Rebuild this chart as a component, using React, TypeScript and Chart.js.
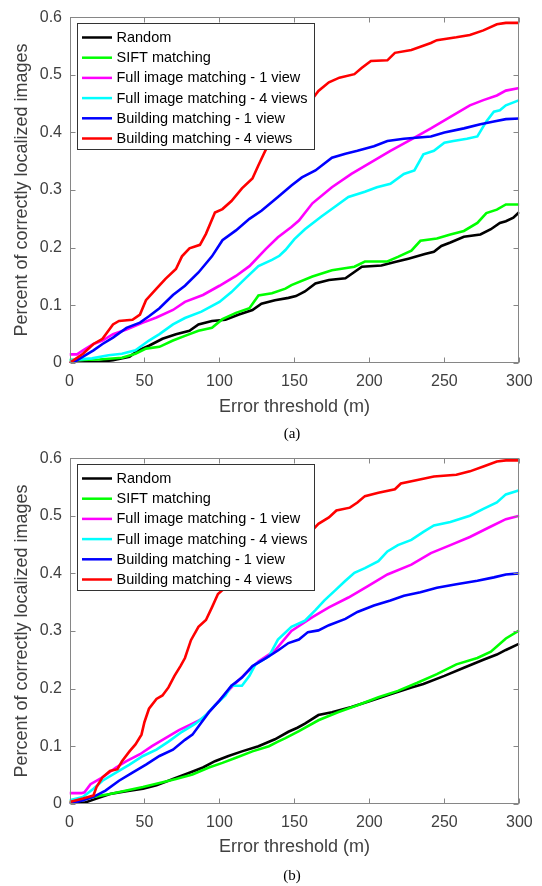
import React, { useEffect, useRef } from "react";
import { Chart, registerables } from "chart.js";

Chart.register(...registerables);

// ---------- shared labels / ticks ----------
const SERIES_LABELS = [
  "Random",
  "SIFT matching",
  "Full image matching - 1 view",
  "Full image matching - 4 views",
  "Building matching - 1 view",
  "Building matching - 4 views",
];
const SERIES_COLORS = ["#000000", "#00ff00", "#ff00ff", "#00ffff", "#0000ff", "#ff0000"];
const X_TICKS = [0, 50, 100, 150, 200, 250, 300];
const Y_TICKS = [0, 0.1, 0.2, 0.3, 0.4, 0.5, 0.6];
const X_TITLE = "Error threshold (m)";
const Y_TITLE = "Percent of correctly localized images";

// ---------- panel (a) ----------
const A_RANDOM_X = [0, 10, 20, 29, 40, 46, 53, 62, 71, 80, 86, 95, 104, 113, 122, 128, 137, 146, 151, 157, 164, 173, 184, 195, 208, 217, 226, 237, 243, 248, 254, 263, 274, 281, 287, 291, 296, 300];
const A_RANDOM_Y = [0, 0.001, 0.002, 0.005, 0.011, 0.022, 0.03, 0.042, 0.05, 0.056, 0.067, 0.073, 0.075, 0.084, 0.092, 0.103, 0.109, 0.113, 0.116, 0.124, 0.138, 0.144, 0.147, 0.167, 0.169, 0.175, 0.181, 0.189, 0.193, 0.203, 0.209, 0.219, 0.223, 0.232, 0.243, 0.246, 0.252, 0.262];

const A_SIFT_X = [0, 20, 35, 44, 51, 60, 69, 77, 86, 95, 102, 111, 120, 126, 135, 144, 148, 162, 175, 190, 197, 212, 219, 228, 234, 245, 254, 263, 272, 278, 285, 291, 300];
const A_SIFT_Y = [0.005, 0.006, 0.009, 0.016, 0.025, 0.028, 0.039, 0.047, 0.056, 0.061, 0.076, 0.087, 0.095, 0.117, 0.121, 0.129, 0.135, 0.15, 0.161, 0.167, 0.176, 0.176, 0.184, 0.195, 0.212, 0.216, 0.223, 0.229, 0.243, 0.26, 0.266, 0.275, 0.275];

const A_FULL1_X = [0, 5, 9, 16, 22, 29, 38, 49, 58, 69, 77, 89, 100, 111, 120, 131, 139, 148, 153, 162, 175, 188, 201, 214, 228, 241, 254, 267, 276, 285, 291, 300];
const A_FULL1_Y = [0.015, 0.015, 0.022, 0.033, 0.039, 0.05, 0.058, 0.07, 0.079, 0.092, 0.106, 0.118, 0.134, 0.151, 0.168, 0.198, 0.218, 0.236, 0.247, 0.277, 0.305, 0.328, 0.348, 0.368, 0.388, 0.407, 0.427, 0.447, 0.456, 0.464, 0.4725, 0.477];

const A_FULL4_X = [0, 15, 26, 35, 44, 53, 60, 69, 77, 88, 100, 108, 117, 126, 135, 140, 144, 150, 157, 168, 177, 186, 197, 205, 214, 223, 230, 236, 243, 250, 256, 265, 272, 278, 283, 287, 291, 300];
const A_FULL4_Y = [0.005, 0.008, 0.0135, 0.016, 0.022, 0.039, 0.05, 0.067, 0.078, 0.089, 0.106, 0.123, 0.146, 0.168, 0.179, 0.186, 0.196, 0.215, 0.232, 0.254, 0.271, 0.288, 0.297, 0.305, 0.311, 0.328, 0.334, 0.362, 0.368, 0.382, 0.385, 0.389, 0.393, 0.419, 0.436, 0.4385, 0.447, 0.456];

const A_BLD1_X = [0, 2, 9, 16, 22, 29, 38, 47, 53, 60, 69, 77, 86, 95, 102, 111, 120, 128, 139, 148, 155, 164, 175, 184, 192, 203, 212, 223, 241, 250, 263, 274, 283, 291, 300];
const A_BLD1_Y = [0, 0, 0.011, 0.022, 0.033, 0.044, 0.061, 0.07, 0.081, 0.095, 0.118, 0.134, 0.157, 0.185, 0.213, 0.23, 0.25, 0.264, 0.288, 0.308, 0.322, 0.334, 0.356, 0.363, 0.368, 0.376, 0.385, 0.389, 0.393, 0.4, 0.407, 0.414, 0.419, 0.423, 0.424];

const A_BLD4_X = [0, 9, 16, 22, 29, 33, 42, 47, 51, 58, 64, 71, 75, 80, 87, 91, 97, 102, 108, 115, 122, 126, 132, 140, 150, 162, 166, 173, 180, 190, 195, 201, 212, 217, 228, 241, 245, 258, 267, 276, 285, 291, 300];
const A_BLD4_Y = [0, 0.016, 0.033, 0.042, 0.067, 0.073, 0.075, 0.084, 0.109, 0.129, 0.146, 0.163, 0.185, 0.199, 0.205, 0.224, 0.261, 0.267, 0.281, 0.303, 0.32, 0.343, 0.376, 0.405, 0.432, 0.458, 0.472, 0.487, 0.495, 0.501, 0.512, 0.524, 0.525, 0.538, 0.543, 0.555, 0.56, 0.565, 0.569, 0.577, 0.5875, 0.59, 0.59];

// ---------- panel (b) ----------
const B_RANDOM_X = [0, 10, 18, 27, 38, 49, 58, 69, 80, 89, 97, 106, 115, 126, 137, 146, 152, 157, 166, 175, 188, 201, 214, 228, 236, 250, 263, 276, 285, 291, 300];
const B_RANDOM_Y = [0, 0.002, 0.009, 0.017, 0.022, 0.026, 0.032, 0.043, 0.054, 0.063, 0.074, 0.083, 0.091, 0.1, 0.112, 0.125, 0.132, 0.139, 0.154, 0.159, 0.168, 0.179, 0.19, 0.202, 0.208, 0.222, 0.236, 0.25, 0.259, 0.267, 0.278];

const B_SIFT_X = [0, 7, 16, 27, 38, 49, 60, 71, 82, 93, 102, 111, 122, 133, 139, 144, 153, 166, 179, 192, 206, 219, 232, 245, 258, 272, 281, 291, 300];
const B_SIFT_Y = [0.003, 0.006, 0.012, 0.017, 0.023, 0.029, 0.036, 0.043, 0.051, 0.063, 0.071, 0.08, 0.091, 0.1, 0.108, 0.114, 0.126, 0.145, 0.159, 0.171, 0.185, 0.196, 0.21, 0.225, 0.242, 0.253, 0.264, 0.287, 0.301];

const B_FULL1_X = [0, 8, 10, 14, 22, 31, 38, 47, 55, 64, 73, 82, 89, 95, 102, 108, 117, 126, 137, 148, 162, 173, 186, 199, 212, 228, 241, 254, 267, 280, 291, 300];
const B_FULL1_Y = [0.0185, 0.0185, 0.02, 0.034, 0.046, 0.063, 0.074, 0.086, 0.1, 0.114, 0.128, 0.139, 0.148, 0.165, 0.185, 0.202, 0.225, 0.247, 0.266, 0.3, 0.324, 0.341, 0.358, 0.378, 0.398, 0.415, 0.435, 0.449, 0.463, 0.48, 0.494, 0.5];

const B_FULL4_X = [0, 9, 16, 22, 31, 40, 49, 58, 66, 75, 84, 91, 97, 104, 108, 115, 120, 124, 133, 139, 148, 157, 164, 170, 177, 184, 190, 197, 206, 212, 219, 228, 236, 243, 254, 267, 276, 285, 291, 300];
const B_FULL4_Y = [0.006, 0.012, 0.026, 0.04, 0.054, 0.068, 0.083, 0.094, 0.108, 0.125, 0.139, 0.154, 0.171, 0.188, 0.205, 0.205, 0.222, 0.242, 0.256, 0.285, 0.307, 0.318, 0.336, 0.353, 0.37, 0.387, 0.401, 0.409, 0.421, 0.438, 0.449, 0.458, 0.472, 0.483, 0.489, 0.5, 0.512, 0.523, 0.537, 0.544];

const B_BLD1_X = [0, 9, 16, 24, 33, 42, 51, 60, 69, 77, 82, 86, 93, 100, 108, 115, 122, 131, 139, 146, 153, 159, 166, 173, 184, 192, 203, 214, 223, 234, 245, 258, 272, 283, 291, 300];
const B_BLD1_Y = [0, 0.006, 0.012, 0.023, 0.04, 0.054, 0.068, 0.083, 0.094, 0.111, 0.12, 0.134, 0.159, 0.179, 0.205, 0.219, 0.239, 0.253, 0.266, 0.279, 0.285, 0.298, 0.301, 0.31, 0.321, 0.333, 0.344, 0.353, 0.361, 0.367, 0.375, 0.381, 0.387, 0.393, 0.398, 0.4];

const B_BLD4_X = [0, 9, 16, 18, 22, 27, 32, 35, 40, 44, 48, 50, 53, 58, 62, 66, 70, 74, 77, 81, 86, 91, 95, 99, 102, 105, 110, 120, 130, 140, 150, 162, 166, 173, 178, 187, 192, 197, 206, 217, 221, 232, 243, 258, 267, 276, 285, 291, 300];
const B_BLD4_Y = [0.003, 0.009, 0.0145, 0.029, 0.046, 0.057, 0.06, 0.074, 0.091, 0.103, 0.12, 0.142, 0.165, 0.182, 0.188, 0.202, 0.222, 0.239, 0.253, 0.284, 0.307, 0.319, 0.341, 0.364, 0.371, 0.375, 0.39, 0.415, 0.435, 0.45, 0.462, 0.475, 0.486, 0.497, 0.509, 0.514, 0.523, 0.534, 0.54, 0.546, 0.556, 0.562, 0.568, 0.571, 0.577, 0.5855, 0.594, 0.596, 0.596];

const PANEL_A = [
  [A_RANDOM_X, A_RANDOM_Y],
  [A_SIFT_X, A_SIFT_Y],
  [A_FULL1_X, A_FULL1_Y],
  [A_FULL4_X, A_FULL4_Y],
  [A_BLD1_X, A_BLD1_Y],
  [A_BLD4_X, A_BLD4_Y],
];
const PANEL_B = [
  [B_RANDOM_X, B_RANDOM_Y],
  [B_SIFT_X, B_SIFT_Y],
  [B_FULL1_X, B_FULL1_Y],
  [B_FULL4_X, B_FULL4_Y],
  [B_BLD1_X, B_BLD1_Y],
  [B_BLD4_X, B_BLD4_Y],
];

const SANS = '"Liberation Sans", Arial, Helvetica, sans-serif';
const AXIS_GRAY = "#868686";
const TEXT_GRAY = "#404040";

const framePlugin = {
  id: "matlabFrame",
  afterDraw(chart: any) {
    const { ctx, chartArea: a, scales } = chart;
    const xs = scales.x;
    const ys = scales.y;
    const L = Math.round(a.left) + 0.5;
    const R = Math.round(a.right) - 0.5;
    const T = Math.round(a.top) + 0.5;
    const B = Math.round(a.bottom) - 0.5;
    ctx.save();
    ctx.strokeStyle = AXIS_GRAY;
    ctx.lineWidth = 1;
    ctx.strokeRect(L, T, R - L, B - T);
    const tl = 5;
    ctx.beginPath();
    xs.ticks.forEach((t: any) => {
      const px = Math.round(xs.getPixelForValue(t.value)) + 0.5;
      ctx.moveTo(px, B);
      ctx.lineTo(px, B - tl);
      ctx.moveTo(px, T);
      ctx.lineTo(px, T + tl);
    });
    ys.ticks.forEach((t: any) => {
      const py = Math.round(ys.getPixelForValue(t.value)) + 0.5;
      ctx.moveTo(L, py);
      ctx.lineTo(L + tl, py);
      ctx.moveTo(R, py);
      ctx.lineTo(R - tl, py);
    });
    ctx.stroke();
    ctx.restore();
  },
};

const legendPlugin = {
  id: "boxLegend",
  afterDatasetsDraw(chart: any) {
    const { ctx, chartArea: a } = chart;
    const left = Math.round(a.left + 7);
    const top = Math.round(a.top + 6);
    const w = 237;
    const h = 126;
    ctx.save();
    ctx.fillStyle = "#ffffff";
    ctx.fillRect(left, top, w, h);
    ctx.strokeStyle = "#333333";
    ctx.lineWidth = 1;
    ctx.strokeRect(left + 0.5, top + 0.5, w, h);
    ctx.font = `14.5px ${SANS}`;
    ctx.textBaseline = "middle";
    ctx.textAlign = "left";
    chart.data.datasets.forEach((ds: any, i: number) => {
      const y = top + 14.5 + i * 20.2;
      ctx.strokeStyle = ds.borderColor;
      ctx.lineWidth = 2.5;
      ctx.beginPath();
      ctx.moveTo(left + 5, y);
      ctx.lineTo(left + 35, y);
      ctx.stroke();
      ctx.fillStyle = "#000000";
      ctx.fillText(ds.label, left + 39.5, y + 0.5);
    });
    ctx.restore();
  },
};

function Panel({ series, height, top, padTop }: { series: number[][][]; height: number; top: number; padTop: number }) {
  const ref = useRef<HTMLCanvasElement | null>(null);
  useEffect(() => {
    if (!ref.current) return;
    const datasets = series.map(([xs, ys], i) => ({
      label: SERIES_LABELS[i],
      data: xs.map((x, j) => ({ x, y: ys[j] })),
      borderColor: SERIES_COLORS[i],
      backgroundColor: SERIES_COLORS[i],
      borderWidth: 2.6,
      pointRadius: 0,
      tension: 0,
      fill: false,
      order: series.length - i,
    }));
    const chart = new Chart(ref.current, {
      type: "line",
      data: { datasets },
      options: {
        animation: false,
        responsive: false,
        maintainAspectRatio: false,
        events: [],
        layout: { padding: { left: 0, right: 20, top: padTop, bottom: height - padTop - 353.3 - 60 } },
        plugins: { legend: { display: false }, tooltip: { enabled: false }, title: { display: false } },
        scales: {
          x: {
            type: "linear",
            min: 0,
            max: 300,
            afterBuildTicks: (s: any) => {
              s.ticks = X_TICKS.map((v) => ({ value: v }));
            },
            afterFit: (s: any) => {
              s.height = 60;
            },
            grid: { display: false, drawTicks: false },
            border: { display: false },
            ticks: {
              color: TEXT_GRAY,
              font: { family: SANS, size: 16 },
              padding: 9.3,
              maxRotation: 0,
              callback: (v: any) => String(v),
            },
            title: {
              display: true,
              text: X_TITLE,
              color: TEXT_GRAY,
              font: { family: SANS, size: 18 },
              padding: { top: 0, bottom: 5.5 },
            },
          },
          y: {
            type: "linear",
            min: 0,
            max: 0.6,
            afterBuildTicks: (s: any) => {
              s.ticks = Y_TICKS.map((v) => ({ value: v }));
            },
            afterFit: (s: any) => {
              s.width = 69.5;
            },
            grid: { display: false, drawTicks: false },
            border: { display: false },
            ticks: {
              color: TEXT_GRAY,
              font: { family: SANS, size: 16 },
              padding: 7.5,
              callback: (v: any) => (Number(v) === 0 ? "0" : Number(v).toFixed(1)),
            },
            title: {
              display: true,
              text: Y_TITLE,
              color: TEXT_GRAY,
              font: { family: SANS, size: 18 },
              padding: { top: 11.5, bottom: 0 },
            },
          },
        },
      },
      plugins: [legendPlugin, framePlugin],
    } as any);
    return () => chart.destroy();
  }, [series, height, padTop]);
  return (
    <canvas
      ref={ref}
      width={542}
      height={height}
      style={{ position: "absolute", left: 0, top, width: 542, height, display: "block" }}
    />
  );
}

const captionStyle: React.CSSProperties = {
  position: "absolute",
  left: 242,
  width: 100,
  textAlign: "center",
  fontFamily: '"Liberation Serif", "Times New Roman", serif',
  fontSize: 15,
  lineHeight: "18px",
  color: "#000",
};

export default function App() {
  useEffect(() => {
    document.body.style.margin = "0";
    document.body.style.background = "#ffffff";
  }, []);
  return (
    <div style={{ position: "absolute", left: 0, top: 0, width: 542, height: 886, background: "#fff", overflow: "hidden" }}>
      <Panel series={PANEL_A} height={441} top={0} padTop={9.7} />
      <div style={{ ...captionStyle, top: 424 }}>(a)</div>
      <Panel series={PANEL_B} height={445} top={441} padTop={9.5} />
      <div style={{ ...captionStyle, top: 866 }}>(b)</div>
    </div>
  );
}
